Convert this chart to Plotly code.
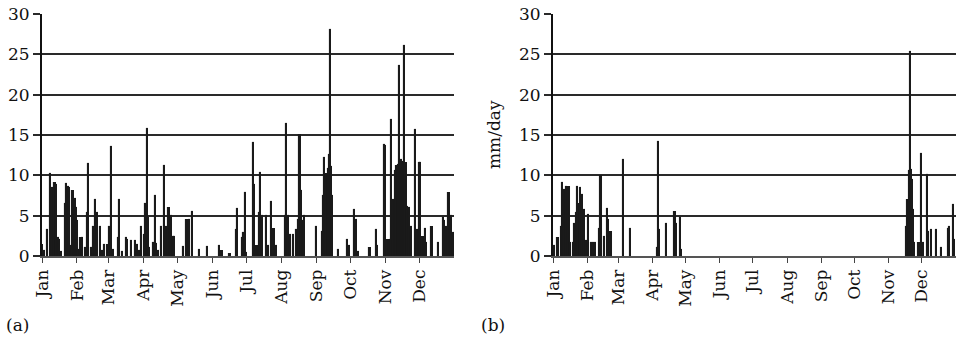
import plotly.graph_objects as go

# ---- data: daily rainfall (mm/day), day-of-year -> value ----
months = ["Jan", "Feb", "Mar", "Apr", "May", "Jun", "Jul", "Aug", "Sep", "Oct", "Nov", "Dec"]
month_start_day = [1, 32, 60, 91, 121, 152, 182, 213, 244, 274, 305, 335]

days_a = [1, 3, 5, 8, 10, 12, 13, 15, 16, 18, 21, 22, 24, 25, 27, 28, 30, 31, 32, 33, 35, 36, 39,
          41, 42, 44, 46, 48, 50, 52, 54, 56, 59, 60, 62, 64, 68, 69, 72, 75, 76, 80, 83, 85, 87, 89,
          91, 92, 94, 95, 96, 99, 101, 102, 104, 106, 109, 111, 113, 115, 117, 118, 126, 129, 131, 134,
          140, 147, 158, 160, 167, 173, 174, 178, 179, 181, 182, 188, 189, 191, 193, 194, 196, 199,
          201, 204, 206, 208, 216, 217, 219, 221, 223, 226, 228, 229, 230, 232, 233, 244, 249, 250,
          251, 252, 253, 254, 255, 256, 257, 258, 263, 271, 273, 277, 279, 281, 291, 297, 298, 304,
          305, 307, 309, 310, 312, 314, 315, 316, 317, 318, 319, 320, 321, 322, 323, 324, 326, 328,
          331, 333, 335, 336, 338, 340, 341, 346, 352, 356, 357, 359, 361, 363, 365]
rain_a = [1.4, 0.6, 3.2, 10.2, 8.4, 9.0, 8.8, 2.2, 2.0, 0.5, 6.5, 8.9, 8.6, 8.4, 1.2, 8.0, 7.1, 5.9, 4.3, 0.8, 2.2, 2.2, 1.0,
          5.3, 11.4, 1.0, 3.6, 6.9, 5.3, 3.6, 0.6, 1.4, 1.4, 3.6, 13.5, 0.8, 2.2, 6.9, 0.5, 2.2, 2.0, 1.8, 1.8, 1.4, 0.6, 3.6,
          2.6, 6.5, 15.8, 4.7, 1.0, 1.6, 7.4, 1.5, 0.6, 3.6, 11.1, 3.6, 5.9, 4.9, 2.4, 2.4, 1.1, 4.5, 4.5, 5.5,
          0.8, 1.1, 1.2, 0.6, 0.3, 3.2, 5.8, 2.2, 2.8, 7.8, 0.4, 14.0, 8.8, 1.2, 5.3, 10.3, 4.9, 4.9,
          1.2, 6.7, 3.4, 1.2, 4.9, 16.4, 4.9, 2.6, 2.6, 3.2, 4.5, 15.0, 8.0, 4.3, 4.9, 3.6, 3.0, 7.4,
          12.1, 9.0, 10.2, 10.8, 12.5, 28.0, 11.0, 7.4, 0.7, 2.0, 1.2, 5.7, 4.5, 0.5, 1.0, 3.2, 1.2, 13.8,
          13.6, 2.0, 2.0, 16.9, 6.9, 10.5, 11.1, 11.3, 23.5, 11.1, 11.9, 10.8, 11.7, 26.0, 11.5, 6.1, 5.9, 3.6,
          15.6, 3.2, 11.5, 11.5, 2.4, 3.4, 1.6, 3.6, 1.6, 4.7, 4.3, 3.6, 7.8, 4.9, 2.8]

days_b = [2, 5, 8, 9, 10, 11, 13, 15, 16, 19, 20, 22, 23, 24, 25, 27, 29, 31, 33, 35, 37, 39,
          43, 44, 47, 50, 51, 53, 64, 71, 95, 96, 97, 103, 111, 112, 116, 117,
          321, 322, 323, 324, 325, 326, 327, 328, 332, 334, 336, 340, 341, 343, 348, 352, 359, 360, 363, 364]
rain_b = [1.2, 2.2, 3.6, 9.0, 7.8, 8.2, 8.6, 8.5, 1.6, 1.6, 4.0, 5.3, 8.6, 6.5, 8.4, 7.6, 5.7, 1.8, 5.1, 1.6, 1.6, 1.6,
          3.4, 9.9, 2.4, 5.8, 4.5, 3.0, 11.9, 3.3, 1.0, 14.1, 3.2, 4.0, 5.4, 4.0, 4.7, 0.7,
          3.6, 6.9, 10.5, 25.3, 10.7, 9.4, 5.7, 1.6, 1.6, 12.7, 1.6, 10.0, 3.0, 3.2, 3.2, 1.0, 3.4, 3.6, 6.3, 2.0]

y_ticks = [0, 5, 10, 15, 20, 25, 30]

FONT = "DejaVu Serif"
BAR = "#1a1a1a"
GRID = "#2a2a2a"

fig = go.Figure()
fig.add_trace(go.Bar(x=days_a, y=rain_a, width=[1] * len(days_a), xaxis="x", yaxis="y",
                     marker=dict(color=BAR, line=dict(color=BAR, width=1.1)), showlegend=False))
fig.add_trace(go.Bar(x=days_b, y=rain_b, width=[1] * len(days_b), xaxis="x2", yaxis="y2",
                     marker=dict(color=BAR, line=dict(color=BAR, width=1.1)), showlegend=False))

tickvals = [d - 0.5 for d in month_start_day]
xcommon = dict(range=[0.5, 365.5], tickmode="array", tickvals=tickvals, ticktext=months,
               tickangle=-90, ticks="outside", ticklen=5, tickwidth=1.2, tickcolor="#444",
               showline=True, linecolor="#555", linewidth=1.5, showgrid=False, zeroline=False,
               tickfont=dict(family=FONT, size=17, color="#111"), fixedrange=True)
ycommon = dict(range=[0, 30], tickmode="array", tickvals=y_ticks, ticks="outside", ticklen=7,
               tickwidth=2, tickcolor=GRID, showline=True, linecolor="#111", linewidth=2,
               showgrid=True, gridcolor=GRID, gridwidth=2.3, zeroline=False,
               tickfont=dict(family=FONT, size=17, color="#111"), fixedrange=True)

fig.update_layout(
    width=956, height=341,
    margin=dict(l=42, r=0, t=14, b=85),
    paper_bgcolor="white", plot_bgcolor="white",
    bargap=0,
    xaxis=dict(domain=[0, 0.4508], anchor="y", **xcommon),
    yaxis=dict(domain=[0, 1], anchor="x", **ycommon),
    xaxis2=dict(domain=[0.5591, 1.0], anchor="y2", **xcommon),
    yaxis2=dict(domain=[0, 1], anchor="x2", **ycommon),
)

# position annotations in pixel terms relative to the plot area
W, H = 956, 341
pl, pr, pt, pb = 42, 0, 14, 85
pw, ph = W - pl - pr, H - pt - pb
def px_x(x):
    return (x - pl) / pw
def px_y(y):
    return (H - pb - y) / ph

fig.update_layout(annotations=[
    dict(text="(a)", x=px_x(17), y=px_y(325), xref="paper", yref="paper", showarrow=False,
         xanchor="center", yanchor="middle", font=dict(family=FONT, size=17, color="#111")),
    dict(text="(b)", x=px_x(493), y=px_y(325), xref="paper", yref="paper", showarrow=False,
         xanchor="center", yanchor="middle", font=dict(family=FONT, size=17, color="#111")),
    dict(text="mm/day", x=px_x(494), y=px_y(135), xref="paper", yref="paper", showarrow=False,
         textangle=-90, xanchor="center", yanchor="middle",
         font=dict(family=FONT, size=17, color="#111")),
])

fig.write_html("out.html")
